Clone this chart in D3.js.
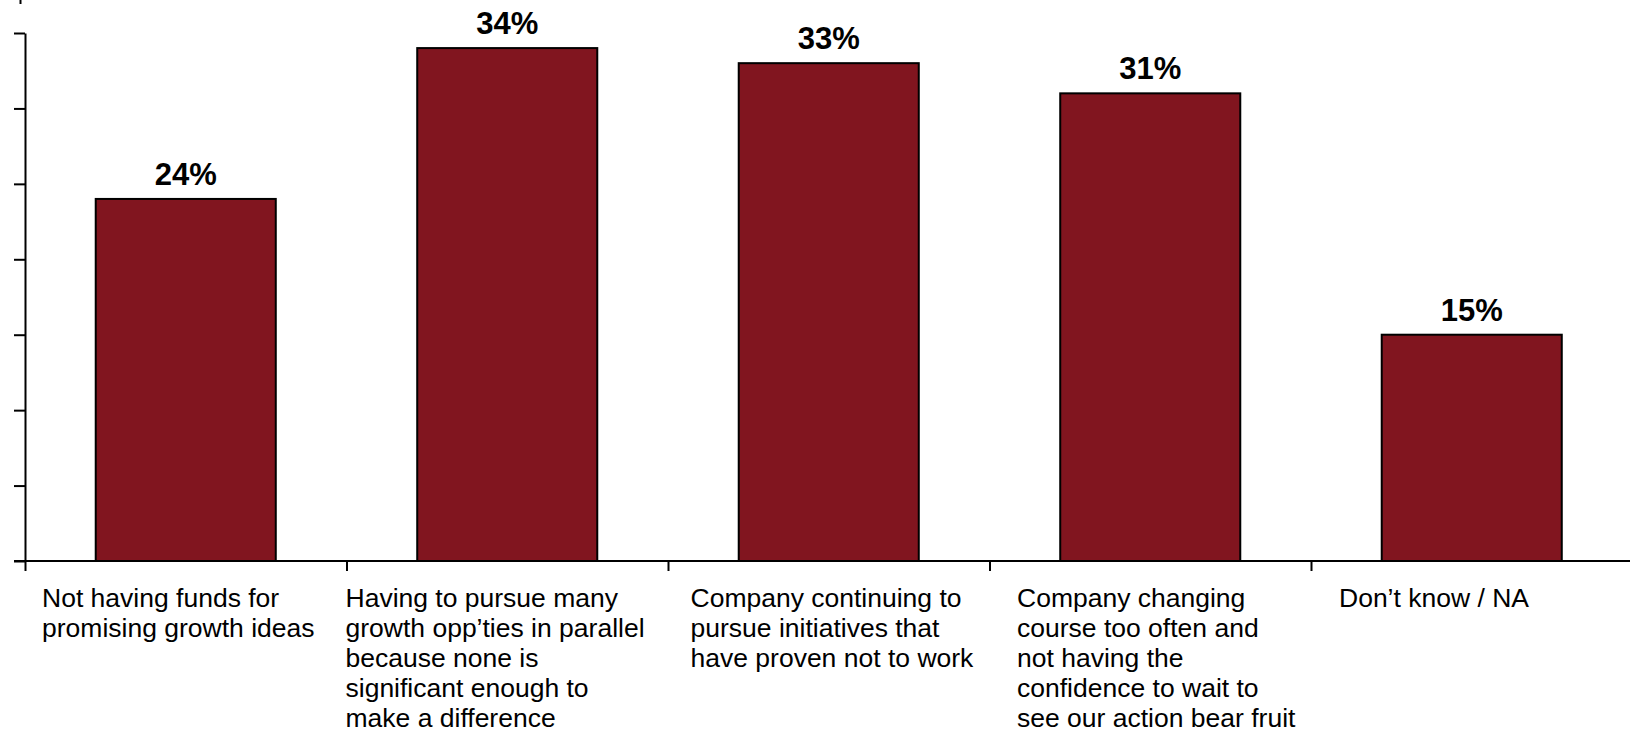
<!DOCTYPE html>
<html>
<head>
<meta charset="utf-8">
<script src="https://cdn.jsdelivr.net/npm/d3@7"></script>
<style>
  html, body { margin: 0; padding: 0; background: #fff; }
  svg { display: block; }
  text { font-family: "Liberation Sans", Arial, sans-serif; fill: #000; }
</style>
</head>
<body>
<svg id="chart" width="1630" height="740"></svg>
<script>
// Share of respondents citing each barrier (%)
const categories = ["funds", "parallel", "continuing", "changing", "dontknow"];
const values = [24, 34, 33, 31, 15];
const categoryLabels = [
  ["Not having funds for", "promising growth ideas"],
  ["Having to pursue many", "growth opp’ties in parallel", "because none is", "significant enough to", "make a difference"],
  ["Company continuing to", "pursue initiatives that", "have proven not to work"],
  ["Company changing", "course too often and", "not having the", "confidence to wait to", "see our action bear fruit"],
  ["Don’t know / NA"]
];
const yTicks = [0, 5, 10, 15, 20, 25, 30, 35];

// Layout
const W = 1630, H = 740;
const plotLeft = 25, plotRight = 1632.5, plotTop = 33, plotBase = 561;
const labelInset = [17, -1, 22.5, 27.5, 28];   // text box offset from each category's left edge
const barColor = "#81151f";

const svg = d3.select("#chart");

const x = d3.scaleBand().domain(categories).range([plotLeft, plotRight]).paddingInner(0.44).paddingOuter(0.22);
const xEdge = d3.scaleLinear().domain([0, categories.length]).range([plotLeft, plotRight]);
const y = d3.scaleLinear().domain([0, 35]).range([plotBase, plotTop]);

// Small stub at the top-left corner
svg.append("line").attr("x1", 20.5).attr("x2", 20.5).attr("y1", 0).attr("y2", 4)
  .attr("stroke", "#000").attr("stroke-width", 2);

// Bars
svg.append("g").selectAll("rect").data(values).join("rect")
  .attr("x", (d, i) => x(categories[i]))
  .attr("width", x.bandwidth())
  .attr("y", d => y(d))
  .attr("height", d => y(0) - y(d))
  .attr("fill", barColor)
  .attr("stroke", "#000")
  .attr("stroke-width", 2);

// Value labels
svg.append("g").selectAll("text").data(values).join("text")
  .attr("x", (d, i) => x(categories[i]) + x.bandwidth() / 2)
  .attr("y", d => y(d) - 14)
  .attr("text-anchor", "middle")
  .style("font-size", "31px")
  .style("font-weight", "bold")
  .text(d => d + "%");

// Y axis (ticks only, no labels)
const yAxis = svg.append("g").attr("transform", `translate(${plotLeft},0)`)
  .call(d3.axisLeft(y).tickValues(yTicks).tickSize(11).tickSizeOuter(0).tickFormat(""));
yAxis.selectAll("line, path").attr("stroke", "#000").attr("stroke-width", 2);

// X axis: category boundaries with downward ticks
const xAxis = svg.append("g").attr("transform", `translate(0,${plotBase})`)
  .call(d3.axisBottom(xEdge).tickValues(d3.range(0, categories.length)).tickSize(10).tickSizeOuter(0).tickFormat(""));
xAxis.select(".domain").remove();
xAxis.selectAll("line").attr("stroke", "#000").attr("stroke-width", 2);
svg.append("line").attr("x1", 14).attr("x2", W).attr("y1", plotBase).attr("y2", plotBase)
  .attr("stroke", "#000").attr("stroke-width", 2);

// Category labels, left aligned under each band
const lineH = 30;
const lab = svg.append("g").selectAll("text").data(categoryLabels).join("text")
  .attr("x", (d, i) => xEdge(i) + labelInset[i])
  .attr("y", 606.7)
  .style("font-size", "26.5px");
lab.each(function(lines, i) {
  d3.select(this).selectAll("tspan").data(lines).join("tspan")
    .attr("x", xEdge(i) + labelInset[i])
    .attr("dy", (d, j) => j === 0 ? 0 : lineH)
    .text(d => d);
});
</script>
</body>
</html>
